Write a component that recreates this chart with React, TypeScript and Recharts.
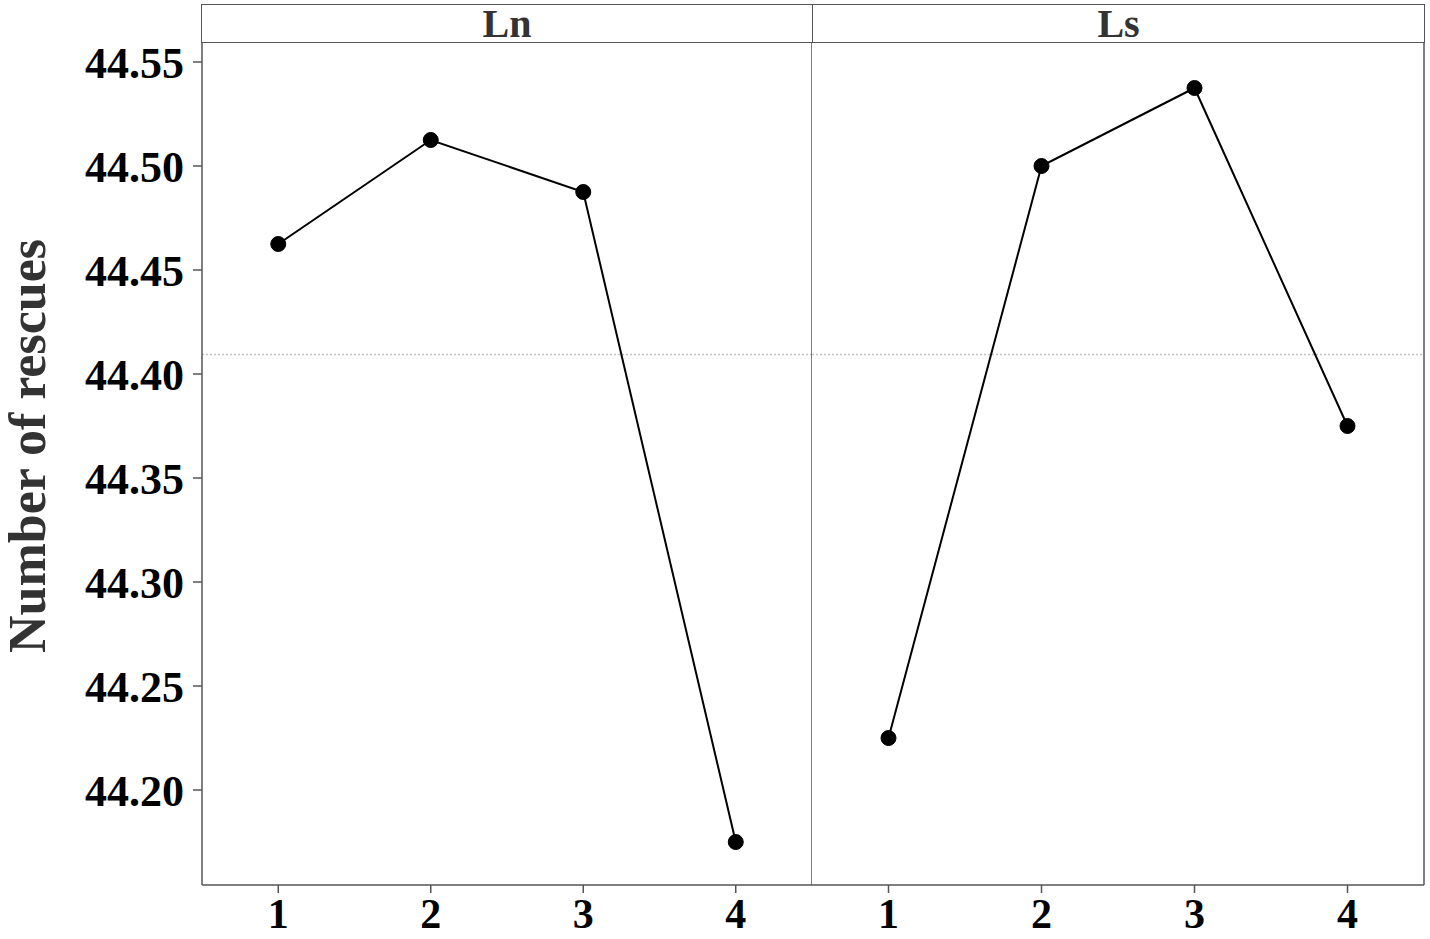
import { LineChart, Line, XAxis, YAxis, ReferenceLine } from "recharts"

const levels = [1, 2, 3, 4]
const lnValues = [44.4625, 44.5125, 44.4875, 44.175]
const lsValues = [44.225, 44.5, 44.5375, 44.375]
const yTicks = [44.2, 44.25, 44.3, 44.35, 44.4, 44.45, 44.5, 44.55]
const panelNames = ["Ln", "Ls"]

const FONT = '"Liberation Serif", "Times New Roman", serif'
const AXIS = "#555"
const Y_DOMAIN: [number, number] = [44.15433, 44.55913]
const X_DOMAIN: [number, number] = [0.5, 4.5]

const allValues = [...lnValues, ...lsValues]
const grandMean = allValues.reduce((a, b) => a + b, 0) / allValues.length

const toRows = (values: number[]) => levels.map((level, i) => ({ level, value: values[i] }))

const yTickStyle = { fontFamily: FONT, fontSize: 44, fontWeight: 700, fill: "#000" }
const xTickStyle = { fontFamily: FONT, fontSize: 42, fontWeight: 700, fill: "#000" }

const YTitle = () => (
  <text
    x={27}
    y={446}
    transform="rotate(-90 27 446)"
    textAnchor="middle"
    dominantBaseline="central"
    style={{ fontFamily: FONT, fontSize: 52, fontWeight: 700, fill: "#333" }}
  >
    Number of rescues
  </text>
)

function Panel({ values, first }: { values: number[]; first: boolean }) {
  return (
    <LineChart
      width={first ? 812 : 618}
      height={939}
      data={toRows(values)}
      margin={{ top: 43, right: first ? 0 : 6, bottom: 0, left: 0 }}
    >
      <XAxis
        dataKey="level"
        type="number"
        domain={X_DOMAIN}
        ticks={levels}
        height={54}
        stroke={AXIS}
        strokeWidth={1.5}
        tickSize={8}
        tickMargin={5}
        tick={xTickStyle}
      />
      {first ? (
        <YAxis
          domain={Y_DOMAIN}
          ticks={yTicks}
          allowDataOverflow
          width={202}
          stroke={AXIS}
          strokeWidth={1.5}
          tickSize={9}
          tickMargin={9}
          tick={yTickStyle}
          tickFormatter={(v: number) => v.toFixed(2)}
          label={{ content: () => <YTitle /> }}
        />
      ) : (
        <YAxis hide domain={Y_DOMAIN} allowDataOverflow />
      )}
      <ReferenceLine y={grandMean} stroke="#c4c4c4" strokeWidth={1.5} strokeDasharray="2 2" />
      <ReferenceLine x={4.5} stroke={AXIS} strokeWidth={1.5} />
      <Line
        dataKey="value"
        stroke="#000"
        strokeWidth={2}
        dot={{ r: 7.5, fill: "#000", stroke: "#000", strokeWidth: 1 }}
        isAnimationActive={false}
      />
    </LineChart>
  )
}

export default function App() {
  return (
    <div style={{ position: "absolute", left: 0, top: 0, width: 1430, height: 939, background: "#fff" }}>
      <div style={{ position: "absolute", left: 0, top: 0 }}>
        <Panel values={lnValues} first />
      </div>
      <div style={{ position: "absolute", left: 812, top: 0 }}>
        <Panel values={lsValues} first={false} />
      </div>
      <div
        style={{
          position: "absolute",
          left: 201,
          top: 4,
          width: 1224,
          height: 39,
          boxSizing: "border-box",
          border: `1.5px solid ${AXIS}`,
          display: "flex",
        }}
      >
        {panelNames.map((name, i) => (
          <div
            key={name}
            style={{
              flex: i === 0 ? "0 0 610px" : "1 1 auto",
              borderRight: i === 0 ? `1.5px solid ${AXIS}` : "none",
              display: "flex",
              alignItems: "center",
              justifyContent: "center",
              fontFamily: FONT,
              fontSize: 40,
              fontWeight: 700,
              color: "#333",
              lineHeight: 1,
            }}
          >
            {name}
          </div>
        ))}
      </div>
    </div>
  )
}
